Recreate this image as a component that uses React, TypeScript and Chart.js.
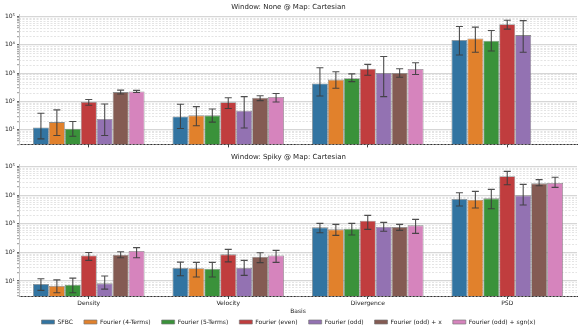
import React, { useEffect, useRef } from 'react';
import { Chart, registerables } from 'chart.js';

Chart.register(...registerables);
Chart.defaults.font.family = "'DejaVu Sans', sans-serif";

const categories = ['Density', 'Velocity', 'Divergence', 'PSD'];
const seriesNames = [
  'SFBC',
  'Fourier (4-Terms)',
  'Fourier (5-Terms)',
  'Fourier (even)',
  'Fourier (odd)',
  'Fourier (odd) + x',
  'Fourier (odd) + sgn(x)',
];
const seriesColors = ['#3274A1', '#E1812C', '#3A923A', '#C03D3E', '#9372B2', '#845B53', '#D684BD'];
const yMin = 3;
const yMax = 120000;
const yMajorTicks = [10, 100, 1000, 10000, 100000];
const yMajorLabels = ['10¹', '10²', '10³', '10⁴', '10⁵'];
const titleNone = 'Window: None @ Map: Cartesian';
const titleSpiky = 'Window: Spiky @ Map: Cartesian';
const xAxisTitle = 'Basis';

// ---- Window: None ----
const noneSFBC = [12, 29, 430, 14900];
const noneSFBCLo = [4.7, 11, 155, 4400];
const noneSFBCHi = [38, 79, 1550, 44700];
const none4T = [18.5, 32, 590, 17000];
const none4TLo = [6.2, 13.8, 290, 5500];
const none4THi = [50, 65, 1120, 42400];
const none5T = [10.8, 32, 660, 14100];
const none5TLo = [5.8, 18.5, 500, 6100];
const none5THi = [19.5, 54, 940, 32400];
const noneEven = [95, 93, 1435, 54000];
const noneEvenLo = [73, 56, 840, 36000];
const noneEvenHi = [117, 135, 2040, 74500];
const noneOdd = [24, 47, 1015, 22200];
const noneOddLo = [6.2, 11.4, 147, 5500];
const noneOddHi = [81, 147, 3900, 72500];
const noneOddX = [213, 135, 1015, null];
const noneOddXLo = [182, 106, 716, null];
const noneOddXHi = [250, 158, 1435, null];
const noneOddSgn = [225, 143, 1400, null];
const noneOddSgnLo = [205, 95, 890, null];
const noneOddSgnHi = [245, 190, 2340, null];

// ---- Window: Spiky ----
const spikySFBC = [7.9, 29, 755, 7400];
const spikySFBCLo = [4.7, 15.4, 490, 4200];
const spikySFBCHi = [12, 46, 1040, 12300];
const spiky4T = [6.7, 28, 643, 7000];
const spiky4TLo = [3.9, 13.8, 396, 3580];
const spiky4THi = [11, 45, 960, 13700];
const spiky5T = [7.4, 27, 678, 7800];
const spiky5TLo = [3.9, 13.8, 407, 3390];
const spiky5THi = [12.7, 45, 1040, 16100];
const spikyEven = [79, 86, 1290, 46000];
const spikyEvenLo = [53, 47, 643, 23400];
const spikyEvenHi = [100, 128, 1980, 68700];
const spikyOdd = [8.3, 29, 795, 9940];
const spikyOddLo = [5.2, 15.8, 550, 4570];
const spikyOddHi = [15, 53, 1130, 24100];
const spikyOddX = [83, 71, 774, 26100];
const spikyOddXLo = [65, 44, 593, 21600];
const spikyOddXHi = [106, 98, 960, 35100];
const spikyOddSgn = [112, 79, 887, 26800];
const spikyOddSgnLo = [65, 45, 466, 18900];
const spikyOddSgnHi = [147, 118, 1435, 42400];

const noneMeans = [noneSFBC, none4T, none5T, noneEven, noneOdd, noneOddX, noneOddSgn];
const noneLows = [noneSFBCLo, none4TLo, none5TLo, noneEvenLo, noneOddLo, noneOddXLo, noneOddSgnLo];
const noneHighs = [noneSFBCHi, none4THi, none5THi, noneEvenHi, noneOddHi, noneOddXHi, noneOddSgnHi];
const spikyMeans = [spikySFBC, spiky4T, spiky5T, spikyEven, spikyOdd, spikyOddX, spikyOddSgn];
const spikyLows = [spikySFBCLo, spiky4TLo, spiky5TLo, spikyEvenLo, spikyOddLo, spikyOddXLo, spikyOddSgnLo];
const spikyHighs = [spikySFBCHi, spiky4THi, spiky5THi, spikyEvenHi, spikyOddHi, spikyOddXHi, spikyOddSgnHi];

const isMajor = (v: number) => yMajorTicks.some((m) => Math.abs(m - v) / m < 1e-6);

function allLogTicks() {
  const out: number[] = [];
  for (let k = 0; k <= 5; k++) {
    for (let m = 1; m <= 9; m++) {
      const v = m * Math.pow(10, k);
      if (v >= yMin && v <= yMax) out.push(v);
    }
  }
  return out;
}

const minorGridPlugin = {
  id: 'minorGrid',
  beforeDatasetsDraw(chart: any) {
    const { ctx, chartArea } = chart;
    const y = chart.scales.y;
    ctx.save();
    ctx.strokeStyle = '#d2d2d2';
    ctx.lineWidth = 0.6;
    ctx.setLineDash([2, 1.5]);
    for (const v of allLogTicks()) {
      if (isMajor(v)) continue;
      const py = Math.round(y.getPixelForValue(v)) + 0.5;
      ctx.beginPath();
      ctx.moveTo(chartArea.left, py);
      ctx.lineTo(chartArea.right, py);
      ctx.stroke();
    }
    ctx.restore();
  },
};

function makeErrorBarPlugin(lows: (number | null)[][], highs: (number | null)[][]) {
  return {
    id: 'errorBars',
    afterDatasetsDraw(chart: any) {
      const { ctx } = chart;
      const y = chart.scales.y;
      ctx.save();
      ctx.strokeStyle = 'rgba(60,60,60,0.9)';
      ctx.lineWidth = 1.1;
      chart.data.datasets.forEach((_d: any, i: number) => {
        const meta = chart.getDatasetMeta(i);
        meta.data.forEach((bar: any, j: number) => {
          const lo = lows[i][j];
          const hi = highs[i][j];
          if (lo == null || hi == null) return;
          const x = bar.x;
          const y1 = y.getPixelForValue(lo);
          const y2 = y.getPixelForValue(hi);
          const cap = 3.5;
          ctx.beginPath();
          ctx.moveTo(x, y1);
          ctx.lineTo(x, y2);
          ctx.moveTo(x - cap, y1);
          ctx.lineTo(x + cap, y1);
          ctx.moveTo(x - cap, y2);
          ctx.lineTo(x + cap, y2);
          ctx.stroke();
        });
      });
      ctx.restore();
    },
  };
}

function makeConfig(
  title: string,
  means: (number | null)[][],
  lows: (number | null)[][],
  highs: (number | null)[][],
  bottom: boolean
): any {
  return {
    type: 'bar',
    data: {
      labels: categories,
      datasets: seriesNames.map((name, i) => ({
        label: name,
        data: means[i],
        backgroundColor: seriesColors[i],
        borderColor: 'rgba(120,120,120,0.85)',
        borderWidth: 0.8,
        categoryPercentage: 0.8,
        barPercentage: 1.0,
      })),
    },
    options: {
      responsive: false,
      animation: false,
      devicePixelRatio: 1,
      layout: { padding: { left: 0, right: 4, top: 0, bottom: bottom ? -4 : 0 } },
      plugins: {
        title: {
          display: true,
          text: title,
          color: '#222',
          font: { size: 7, weight: 'normal' },
          padding: { top: 3, bottom: 3 },
        },
        legend: {
          display: bottom,
          position: 'bottom',
          labels: {
            boxWidth: 13,
            boxHeight: 4,
            padding: 11,
            color: '#222',
            font: { size: 6 },
          },
        },
        tooltip: { enabled: false },
      },
      scales: {
        x: {
          type: 'category',
          grid: {
            display: true,
            drawOnChartArea: false,
            drawTicks: true,
            tickLength: 3,
            offset: false,
            color: '#444',
            tickColor: '#444',
          },
          border: { display: true, color: '#333', width: 1 },
          ticks: {
            display: bottom,
            color: '#222',
            font: { size: 6 },
            padding: 1,
          },
          title: {
            display: bottom,
            text: xAxisTitle,
            color: '#222',
            font: { size: 6 },
            padding: { top: 0, bottom: -7.5 },
          },
          afterFit: (s: any) => { s.height = bottom ? 12 : 5; },
        },
        y: {
          type: 'logarithmic',
          min: yMin,
          max: yMax,
          afterBuildTicks: (s: any) => {
            s.ticks = allLogTicks().map((v) => ({ value: v, major: isMajor(v) }));
          },
          afterFit: (s: any) => { s.width = 19; },
          ticks: {
            autoSkip: false,
            color: '#222',
            font: { size: 6 },
            padding: 2,
            callback: (v: any) => {
              const idx = yMajorTicks.findIndex((m) => Math.abs(m - Number(v)) / m < 1e-6);
              return idx >= 0 ? yMajorLabels[idx] : '';
            },
          },
          grid: {
            drawTicks: true,
            tickLength: 2,
            lineWidth: 1.2,
            color: (c: any) => (c.tick && isMajor(c.tick.value) ? '#d6d6d6' : 'rgba(0,0,0,0)'),
            tickColor: (c: any) => (c.tick && isMajor(c.tick.value) ? '#666' : '#aaa'),
          },
          border: { display: true, color: '#c4c4c4', width: 1 },
        },
      },
    },
    plugins: [minorGridPlugin, makeErrorBarPlugin(lows, highs)],
  };
}

function Panel({ cfg, width, height }: { cfg: () => any; width: number; height: number }) {
  const ref = useRef<HTMLCanvasElement | null>(null);
  useEffect(() => {
    if (!ref.current) return;
    const chart = new Chart(ref.current, cfg());
    return () => chart.destroy();
  }, []);
  return <canvas ref={ref} width={width} height={height} style={{ display: 'block', width, height }} />;
}

export default function App() {
  useEffect(() => {
    document.body.style.margin = '0';
  }, []);
  return (
    <div style={{ width: 581, height: 331, background: '#fff', overflow: 'hidden' }}>
      <Panel cfg={() => makeConfig(titleNone, noneMeans, noneLows, noneHighs, false)} width={581} height={150} />
      <Panel cfg={() => makeConfig(titleSpiky, spikyMeans, spikyLows, spikyHighs, true)} width={581} height={181} />
    </div>
  );
}
